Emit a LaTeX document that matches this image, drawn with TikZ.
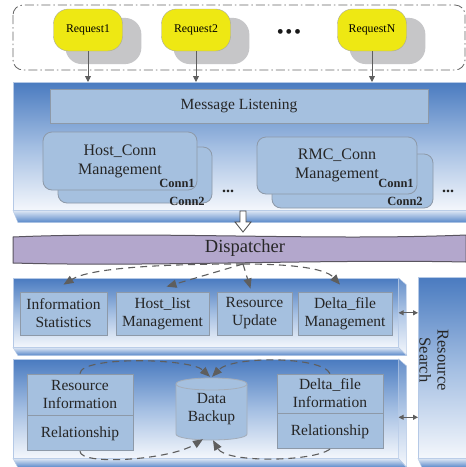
\documentclass[tikz,border=0pt]{standalone}
\usepackage{fontspec}
\setmainfont{Liberation Serif}
\usetikzlibrary{shadows,arrows.meta,calc}
\definecolor{panelTop}{HTML}{4A7BC0}
\definecolor{panelMid}{HTML}{A3BEE2}
\definecolor{panelBot}{HTML}{F4F7FC}
\definecolor{panelEdge}{HTML}{B5C9E6}
\definecolor{faceTop}{HTML}{DCE6F4}
\definecolor{faceBot}{HTML}{5686C8}
\definecolor{boxFill}{HTML}{A5C0DF}
\definecolor{boxBorder}{HTML}{8D99A8}
\definecolor{reqFill}{HTML}{EEE813}
\definecolor{reqBorder}{HTML}{A8A8A0}
\definecolor{shadowGray}{HTML}{C6C6C8}
\definecolor{arrowGray}{HTML}{5E5E5E}
\definecolor{dispFill}{HTML}{B3A7CC}
\definecolor{dispBorder}{HTML}{5A5560}
\begin{document}
\begin{tikzpicture}[x=1pt,y=-1pt,
  txt/.style={font=\fontsize{15.5}{18}\selectfont, text=black!85, align=center},
  box/.style={draw=boxBorder, fill=boxFill, line width=0.8pt, inner sep=0pt, txt},
  panel/.style={top color=panelTop, bottom color=panelBot, middle color=panelMid, draw=panelEdge, line width=0.6pt, inner sep=0pt},
  bface/.style={top color=faceTop, bottom color=faceBot, draw=panelEdge, line width=0.4pt},
  rface/.style={top color=panelTop!85!white, bottom color=panelBot, middle color=panelMid!80!white, draw=panelEdge, line width=0.4pt},
  req/.style={draw=reqBorder, fill=reqFill, rounded corners=15pt, minimum width=69, minimum height=42, inner sep=0pt,
    font=\fontsize{11.8}{14}\selectfont,
    drop shadow={shadow xshift=14pt, shadow yshift=-10pt, shadow scale=1.1, fill=shadowGray, opacity=1}},
  conn/.style={draw=boxBorder, fill=boxFill, line width=0.8pt, rounded corners=9pt, inner sep=0pt,
    align=center, text=black!85, font=\fontsize{16}{19}\selectfont},
  connlbl/.style={font=\fontsize{12.5}{14}\selectfont\bfseries, text=black!85, inner sep=0pt},
  reqarrow/.style={draw=arrowGray, line width=0.9pt, -{Triangle[length=6pt,width=6pt]}},
  dasharrow/.style={draw=arrowGray, line width=1.1pt, dash pattern=on 7pt off 5pt, -{Triangle[length=10pt,width=8pt]}},
  dblarrow/.style={draw=arrowGray, line width=0.9pt, {Triangle[length=5pt,width=5pt]}-{Triangle[length=5pt,width=5pt]}},
  frame/.style={draw=black!60, line width=0.8pt, rounded corners=10pt, dash pattern=on 9pt off 3pt on 1.5pt off 3pt},
  dotstxt/.style={font=\fontsize{16}{16}\selectfont\bfseries, text=black!85, inner sep=0pt}
]
\useasboundingbox (0,0) rectangle (466,467);
\fill[white] (0,0) rectangle (466,467);

% ---- request frame ----
\draw[frame] (13,5) rectangle (465,70);
\node[req] (r1) at (88,30) {Request1};
\node[req] (r2) at (196,30) {Request2};
\node[req] (rn) at (372,30) {RequestN};
\node[font=\fontsize{20}{20}\selectfont, text=black!90, inner sep=0pt] (rdots) at (289,34) {\textbullet\hspace{1.6pt}\textbullet\hspace{1.6pt}\textbullet};

% ---- panel 1 ----
\node[panel, minimum width=453, minimum height=128, anchor=north west] (p1) at (13,82) {};
\shade[bface] (p1.south west) -- (p1.south east) -- ++(0,12) -- ($(p1.south west)+(5,12)$) -- cycle;

\draw[reqarrow] (r1.south) -- (r1.south |- p1.north);
\draw[reqarrow] (r2.south) -- (r2.south |- p1.north);
\draw[reqarrow] (rn.south) -- (rn.south |- p1.north);

\node[box, minimum width=378, minimum height=34] (ml) at (239,106) {Message Listening};

\node[conn, minimum width=154, minimum height=56] (hb) at (135,175) {};
\node[conn, minimum width=154, minimum height=58] (hf) at (120,161) {Host\_Conn\\Management};
\node[connlbl] (hc1) at (177,183) {Conn1};
\node[connlbl] (hc2) at (187,201) {Conn2};
\node[dotstxt, anchor=base] (hd) at (228,192) {...};

\node[conn, minimum width=161, minimum height=54] (rb) at (352.5,181) {};
\node[conn, minimum width=160, minimum height=57] (rf) at (337,165.5) {RMC\_Conn\\Management};
\node[connlbl] (rc1) at (396,183) {Conn1};
\node[connlbl] (rc2) at (405,201) {Conn2};
\node[dotstxt, anchor=base] (rd) at (448,192) {...};

% ---- hollow arrow ----
\draw[draw=black!70, fill=white, line width=0.8pt] (240,211) -- (246,211) -- (246,222) -- (251,222) -- (243,232) -- (235,222) -- (240,222) -- cycle;

% ---- dispatcher ----
\path[fill=dispFill, draw=dispBorder, line width=1pt] (13,237) .. controls (150,231) and (320,241) .. (466,235) -- (466,262) .. controls (320,259) and (150,267) .. (13,263) -- cycle;
\node[font=\fontsize{18.5}{20}\selectfont, text=black!85] (disp) at (245,248) {Dispatcher};
\coordinate (ds) at (243,264);

% ---- panel 2 ----
\node[panel, minimum width=385, minimum height=69, anchor=north west] (p2) at (13,278) {};
\shade[rface] (p2.north east) -- ++(8,7) -- ++(0,70) -- ($(p2.south east)$) -- cycle;
\shade[bface] (p2.south west) -- (p2.south east) -- ++(8,8) -- ($(p2.south west)+(5,8)$) -- cycle;

\node[box, minimum width=87, minimum height=43] (is) at (63.5,313.5) {Information\\Statistics};
\node[box, minimum width=93, minimum height=43] (hl) at (162.5,313.5) {Host\_list\\Management};
\node[box, minimum width=75, minimum height=43] (ru) at (254.5,313.5) {Resource\\Update};
\node[box, minimum width=94, minimum height=43] (dm) at (345,313.5) {Delta\_file\\Management};

\draw[dasharrow] (ds) .. controls (160,264) and (90,268) .. ([yshift=7pt]is.north);
\draw[dasharrow] (ds) -- ([xshift=4pt,yshift=5pt]hl.north);
\draw[dasharrow] (ds) -- ([xshift=-4pt,yshift=3pt]ru.north);
\draw[dasharrow] (ds) .. controls (290,264) and (325,268) .. ([xshift=-5pt,yshift=7pt]dm.north);

% ---- panel 3 ----
\node[panel, minimum width=385, minimum height=99, anchor=north west] (p3) at (13,359) {};
\shade[rface] (p3.north east) -- ++(8,7) -- ++(0,101) -- ($(p3.south east)$) -- cycle;
\shade[bface] (p3.south west) -- (p3.south east) -- ++(8,9) -- ($(p3.south west)+(5,9)$) -- cycle;

\node[box, minimum width=106, minimum height=41] (ri1) at (80,394.5) {Resource\\Information};
\node[box, minimum width=106, minimum height=35, anchor=north] (ri2) at (ri1.south) {Relationship};
\node[box, minimum width=106, minimum height=39] (di1) at (330,393.5) {Delta\_file\\Information};
\node[box, minimum width=106, minimum height=35, anchor=north] (di2) at (di1.south) {Relationship};

\path[fill=boxFill, draw=boxBorder!80!white, line width=0.8pt] (176,384) -- (176,434) .. controls (176,442) and (247,442) .. (247,434) -- (247,384) .. controls (247,376) and (176,376) .. (176,384) -- cycle;
\draw[boxBorder!80!white, line width=0.8pt] (176,384) .. controls (176,392) and (247,392) .. (247,384);
\node[txt, minimum width=71, minimum height=62, inner sep=0pt] (db) at (211.5,409) {Data\\Backup};

\draw[dasharrow] (ri1.north) .. controls (80,356) and (190,358) .. ([xshift=-1.5pt,yshift=1pt]db.north);
\draw[dasharrow] (di1.north) .. controls (322,356) and (232,356) .. ([xshift=0.5pt,yshift=1pt]db.north);
\draw[dasharrow] (ri2.south) .. controls (80,466) and (170,460) .. ([xshift=-8.5pt,yshift=1pt]db.south);
\draw[dasharrow] (di2.south) .. controls (312,462) and (226,463) .. ([xshift=1.5pt,yshift=0pt]db.south);

% ---- resource search ----
\node[panel, minimum width=48, minimum height=181, anchor=north west] (rs) at (418,277) {};
\shade[bface] (rs.south west) -- (rs.south east) -- ++(0,9) -- ($(rs.south west)+(4,9)$) -- cycle;
\node[txt, rotate=-90, font=\fontsize{16.5}{18}\selectfont] (rst) at (434,360) {Resource\\Search};

\coordinate (a3) at ($(p3.east)+(0,8.5)$);
\draw[dblarrow] (p2.east) -- (p2.east -| rs.west);
\draw[dblarrow] (a3) -- (a3 -| rs.west);
\end{tikzpicture}
\end{document}
